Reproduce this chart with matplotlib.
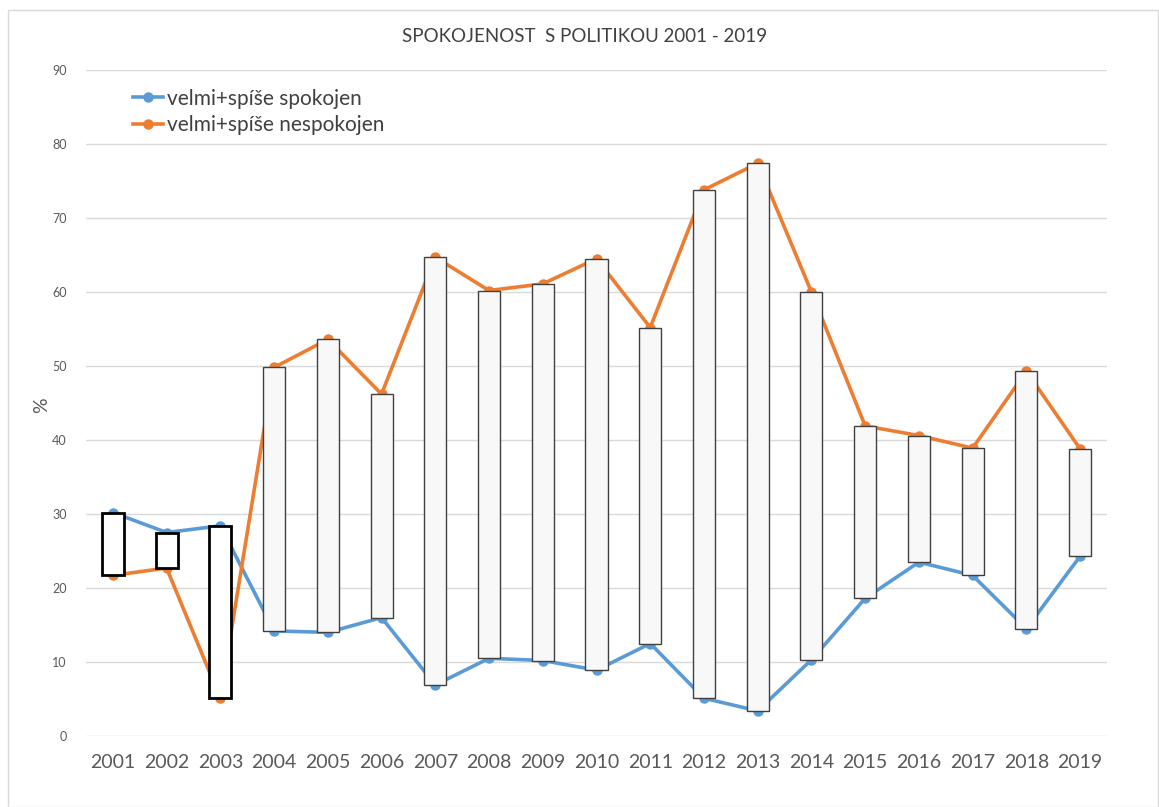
import matplotlib.pyplot as plt
import numpy as np
from matplotlib.patches import Rectangle

# data (percent)
years = ['2001', '2002', '2003', '2004', '2005', '2006', '2007', '2008', '2009', '2010',
         '2011', '2012', '2013', '2014', '2015', '2016', '2017', '2018', '2019']
spokojen = [30.2, 27.5, 28.4, 14.2, 14.0, 16.0, 6.9, 10.5, 10.2, 8.9,
            12.5, 5.1, 3.4, 10.3, 18.6, 23.5, 21.7, 14.5, 24.3]
nespokojen = [21.7, 22.7, 5.1, 49.8, 53.6, 46.2, 64.7, 60.2, 61.1, 64.5,
              55.2, 73.8, 77.4, 60.0, 41.9, 40.6, 38.9, 49.3, 38.8]

plt.rcParams['font.family'] = ['Lato', 'DejaVu Sans']

fig = plt.figure(figsize=(11.59, 8.07), dpi=100, facecolor='w')
ax = fig.add_axes([86 / 1159, 1 - 736 / 807, (1107 - 86) / 1159, (736 - 70) / 807])

x = np.arange(len(years))
blue = '#5b9bd5'
orange = '#ed7d31'

ax.plot(x, spokojen, color=blue, lw=2.6, marker='o', ms=6.5, label='velmi+spíše spokojen', zorder=2)
ax.plot(x, nespokojen, color=orange, lw=2.6, marker='o', ms=6.5, label='velmi+spíše nespokojen', zorder=2)

# up/down bars between the two series
lo = np.minimum(spokojen, nespokojen)
hi = np.maximum(spokojen, nespokojen)
down = np.array(spokojen) > np.array(nespokojen)
for i in x:
    if down[i]:
        ax.bar(i, hi[i] - lo[i], bottom=lo[i], width=0.41, facecolor='white',
               edgecolor='black', linewidth=2, zorder=3)
    else:
        ax.bar(i, hi[i] - lo[i], bottom=lo[i], width=0.41, facecolor='#f8f8f8',
               edgecolor='#404040', linewidth=1, zorder=3)

ax.set_xlim(-0.5, len(years) - 0.5)
ax.set_ylim(0, 90)
ax.set_yticks(np.arange(0, 91, 10))
ax.set_xticks(x)
ax.set_xticklabels(years, fontsize=14, color='#595959')
ax.tick_params(axis='y', labelsize=9, colors='#595959', length=0, pad=14)
ax.tick_params(axis='x', length=0, pad=13)
ax.grid(axis='y', color='#d9d9d9', lw=1)
ax.set_axisbelow(True)
for s in ax.spines.values():
    s.set_visible(False)

fig.text(42 / 1159, 1 - 405 / 807, '%', rotation=90, fontsize=14, color='#595959',
         ha='center', va='center')
fig.text(585 / 1159, 1 - 37 / 807, 'SPOKOJENOST  S POLITIKOU 2001 - 2019', fontsize=13.5,
         color='#404040', ha='center', va='center')

ax.legend(loc='upper left', bbox_to_anchor=(0.028, 1.0), frameon=False, fontsize=15,
          handlelength=1.4, handletextpad=0.2, labelspacing=0.3, labelcolor='#404040')

# chart area border
fig.patches.append(Rectangle((8 / 1159, 0), 1 - 9 / 1159, 1 - 10 / 807, transform=fig.transFigure,
                             fill=False, edgecolor='#d9d9d9', lw=1))

plt.savefig('out.png')
